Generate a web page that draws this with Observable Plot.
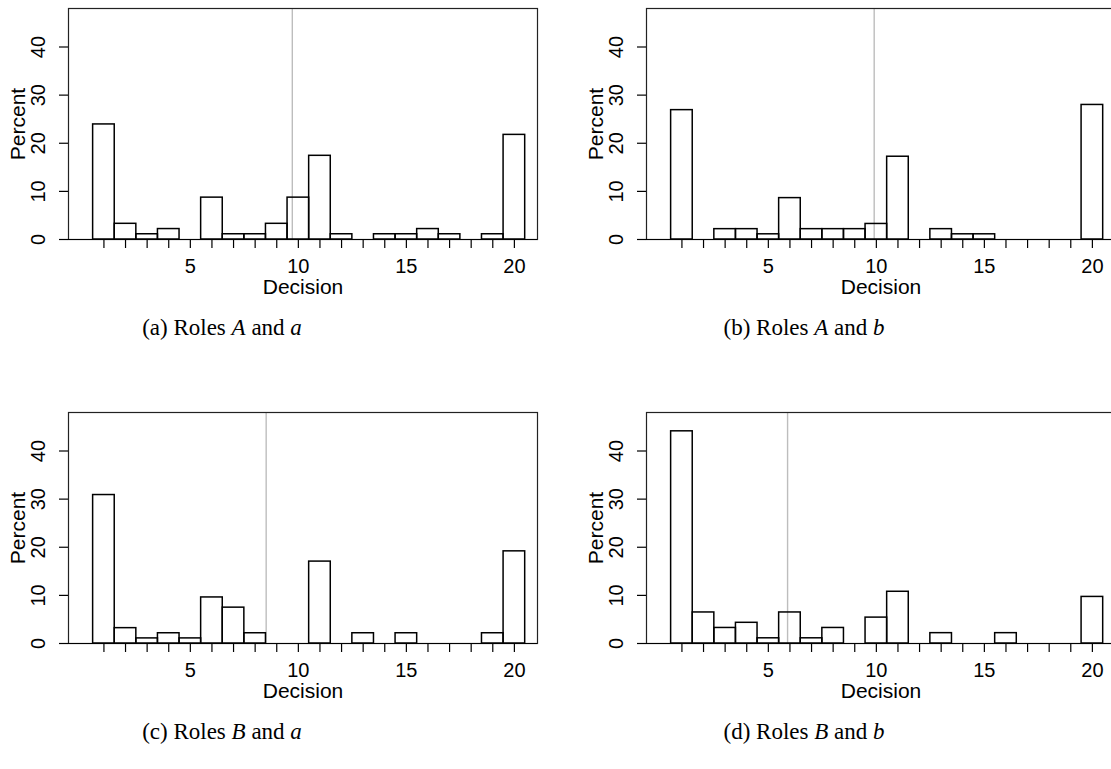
<!DOCTYPE html>
<html><head><meta charset="utf-8">
<script src="https://cdn.jsdelivr.net/npm/d3@7"></script>
<script src="https://cdn.jsdelivr.net/npm/@observablehq/plot@0.6"></script>
<style>
body{margin:0;background:#fff;}
#root{position:relative;width:1111px;height:769px;overflow:hidden;background:#fff;}
.panel{position:absolute;width:560px;height:310px;}
.panel svg{max-width:none !important;width:560px;height:310px;}
.cap{position:absolute;font-family:"Liberation Serif","Times New Roman",serif;font-size:23px;color:#000;transform:translate(-50%,-50%);white-space:nowrap;}
</style></head><body><div id="root"></div>
<script>
const decisions = [1,2,3,4,5,6,7,8,9,10,11,12,13,14,15,16,17,18,19,20];
const xTickLabels = [5,10,15,20];
const yTicks = [0,10,20,30,40];
const pctAa = [23.91,3.26,1.09,2.17,0,8.70,1.09,1.09,3.26,8.70,17.39,1.09,0,1.09,1.09,2.17,1.09,0,1.09,21.74];
const pctAb = [26.88,0,2.15,2.15,1.08,8.60,2.15,2.15,2.15,3.23,17.20,0,2.15,1.08,1.08,0,0,0,0,27.96];
const pctBa = [30.85,3.19,1.06,2.13,1.06,9.57,7.45,2.13,0,0,17.02,0,2.13,0,2.13,0,0,0,2.13,19.15];
const pctBb = [44.09,6.45,3.23,4.30,1.08,6.45,1.08,3.23,0,5.38,10.75,0,2.15,0,0,2.15,0,0,0,9.68];
const means = [9.72, 9.90, 8.51, 5.89];
const captions = [
  ["a","A","a"],["b","A","b"],["c","B","a"],["d","B","b"]
];

function panel(pct, mean) {
  const data = decisions.map((x,i)=>({x, pct: pct[i]})).filter(d=>d.pct>0);
  return Plot.plot({
    width: 560, height: 310,
    marginLeft: 68, marginTop: 8, marginRight: 23, marginBottom: 71,
    x: {domain: [-0.64, 21.07]},
    y: {domain: [0, 48]},
    style: {fontFamily: "'Liberation Sans', Arial, sans-serif", fontSize: "20px", background: "white", color: "black", overflow: "visible"},
    marks: [
      Plot.ruleX([mean], {stroke: "#bdbdbd", strokeWidth: 1.4}),
      Plot.rectY(data, {x1: d=>d.x-0.5, x2: d=>d.x+0.5, y: "pct", fill: "none", stroke: "black", strokeWidth: 1.5}),
      Plot.frame({stroke: "#222", strokeWidth: 1.2}),
      Plot.ruleY([0], {stroke: "black", strokeWidth: 1.2}),
      Plot.axisX({ticks: decisions, tickSize: 9, text: null, label: null, strokeWidth: 1.2}),
      Plot.axisX({ticks: xTickLabels, tickSize: 0, tickPadding: 19, label: null, fontSize: 20}),
      Plot.axisY({ticks: yTicks, tickSize: 9, text: null, label: null, strokeWidth: 1.2}),
      Plot.axisY({ticks: yTicks, tickSize: 0, tickPadding: 24, tickRotate: -90, textAnchor: "middle", label: null, fontSize: 20}),
      Plot.text(["Decision"], {frameAnchor: "bottom", dy: 48, lineAnchor: "middle", textAnchor: "middle", fontSize: 21}),
      Plot.text(["Percent"], {frameAnchor: "left", dx: -50, rotate: -90, lineAnchor: "middle", textAnchor: "middle", fontSize: 21})
    ]
  });
}

const root = document.getElementById("root");
const pos = [[0,0],[578,0],[0,404],[578,404]];
const capPos = [[222,328],[804,328],[222,732],[804,732]];
[pctAa, pctAb, pctBa, pctBb].forEach((p,i)=>{
  const div = document.createElement("div");
  div.className = "panel";
  div.style.left = pos[i][0]+"px";
  div.style.top = pos[i][1]+"px";
  div.appendChild(panel(p, means[i]));
  root.appendChild(div);
  const c = document.createElement("div");
  c.className = "cap";
  c.style.left = capPos[i][0]+"px";
  c.style.top = capPos[i][1]+"px";
  const [k, r1, r2] = captions[i];
  c.innerHTML = `(${k}) Roles <i>${r1}</i> and <i>${r2}</i>`;
  root.appendChild(c);
});
</script></body></html>
